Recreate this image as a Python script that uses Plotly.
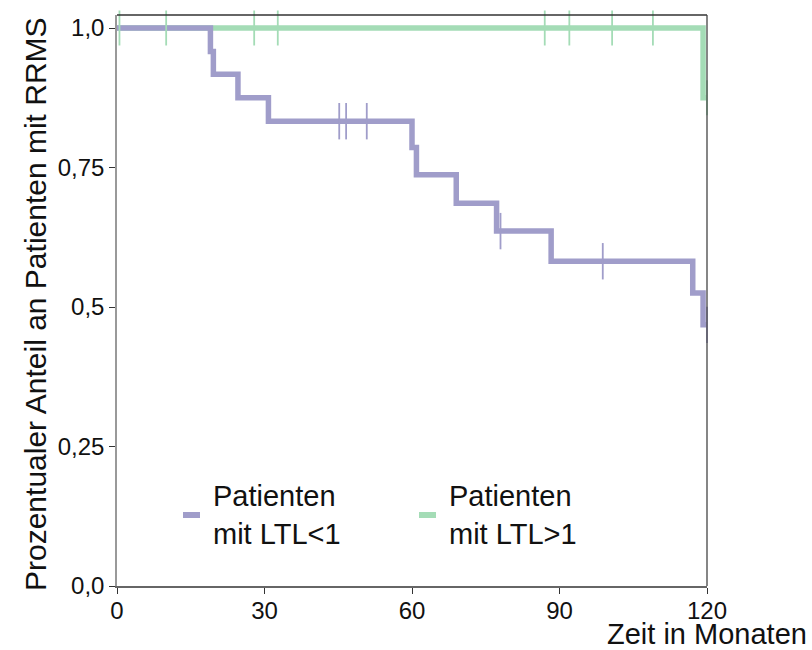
import plotly.graph_objects as go

# ---- data ----
months_ltl_lt1 = [0, 19.0, 19.6, 24.6, 30.8, 60.0, 60.9, 69.0, 77.2, 88.3, 117.1, 119.2, 120]
surv_ltl_lt1 = [1.0, 0.958, 0.917, 0.875, 0.833, 0.786, 0.737, 0.686, 0.636, 0.582, 0.525, 0.468, 0.468]
cens_t_lt1 = [45.2, 46.6, 50.8, 78.0, 98.8, 120]
cens_s_lt1 = [0.833, 0.833, 0.833, 0.636, 0.582, 0.468]

months_ltl_gt1 = [0, 119.2, 120]
surv_ltl_gt1 = [1.0, 0.875, 0.875]
cens_t_gt1 = [0.5, 10.0, 27.9, 32.7, 87.0, 92.0, 100.7, 109.0, 120]
cens_s_gt1 = [1.0, 1.0, 1.0, 1.0, 1.0, 1.0, 1.0, 1.0, 0.875]

x_ticks = [0, 30, 60, 90, 120]
y_ticks = [0, 0.25, 0.5, 0.75, 1.0]
y_tick_labels = ["0,0", "0,25", "0,5", "0,75", "1,0"]

PURPLE = "rgb(160,157,202)"
GREEN = "rgb(164,220,182)"
FONT = "Liberation Sans, Arial, sans-serif"

fig = go.Figure()
fig.add_trace(go.Scatter(x=months_ltl_gt1, y=surv_ltl_gt1, mode="lines", line=dict(color=GREEN, width=5.5, shape="hv"),
                         showlegend=False, hoverinfo="skip"))
fig.add_trace(go.Scatter(x=months_ltl_lt1, y=surv_ltl_lt1, mode="lines", line=dict(color=PURPLE, width=5.5, shape="hv"),
                         showlegend=False, hoverinfo="skip"))
fig.add_trace(go.Scatter(x=cens_t_gt1, y=cens_s_gt1, mode="markers",
                         marker=dict(symbol="line-ns", size=25, line=dict(color=GREEN, width=1.8)),
                         showlegend=False, hoverinfo="skip", cliponaxis=False))
fig.add_trace(go.Scatter(x=cens_t_lt1, y=cens_s_lt1, mode="markers",
                         marker=dict(symbol="line-ns", size=26, line=dict(color=PURPLE, width=1.8)),
                         showlegend=False, hoverinfo="skip", cliponaxis=False))

W, H = 812, 650
L, R, T, B = 117, 105, 15, 64
pw, ph = W - L - R, H - T - B

def px(xp):
    return (xp - L) / pw

def py(yp):
    return (H - B - yp) / ph

# custom legend
legend_items = [("Patienten<br>mit LTL&lt;1", PURPLE, 183, 200, 211),
                ("Patienten<br>mit LTL&gt;1", GREEN, 419, 436, 447)]
for text, col, s0, s1, tx in legend_items:
    fig.add_shape(type="line", xref="paper", yref="paper", x0=px(s0), x1=px(s1), y0=py(515), y1=py(515),
                  line=dict(color=col, width=6))
    fig.add_annotation(text=text, xref="paper", yref="paper", x=px(tx), y=py(515), xanchor="left", yanchor="middle",
                       showarrow=False, align="left", font=dict(size=29, color="#111"))

# top and right frame
fig.add_shape(type="line", xref="paper", yref="paper", x0=0, x1=1, y0=1, y1=1, line=dict(color="#333", width=1.3))
fig.add_shape(type="line", xref="paper", yref="paper", x0=1, x1=1, y0=0, y1=1, line=dict(color="#444", width=1.3))

fig.add_annotation(text="Zeit in Monaten", xref="paper", yref="paper", x=px(808), y=py(634), xanchor="right",
                   yanchor="middle", showarrow=False, font=dict(size=29, color="#111"), borderpad=0)
fig.add_annotation(text="Prozentualer Anteil an Patienten mit RRMS", xref="paper", yref="paper", x=px(35), y=py(304),
                   xanchor="center", yanchor="middle", textangle=-90, showarrow=False, font=dict(size=30, color="#111"))

fig.update_layout(
    width=W, height=H, margin=dict(l=L, r=R, t=T, b=B),
    paper_bgcolor="white", plot_bgcolor="white",
    font=dict(family=FONT, color="#111"),
    xaxis=dict(range=[0, 120], tickvals=x_ticks, ticktext=[str(v) for v in x_ticks], showgrid=False, zeroline=False,
               showline=True, linecolor="#666", linewidth=1.5, ticks="outside", ticklen=6, tickcolor="#333",
               tickfont=dict(size=24), ticklabelstandoff=-4, fixedrange=True),
    yaxis=dict(range=[0, 1.0233], tickvals=y_ticks, ticktext=y_tick_labels, showgrid=False, zeroline=False,
               showline=True, linecolor="#999", linewidth=1.5, ticks="outside", ticklen=6, tickcolor="#333",
               tickfont=dict(size=24), fixedrange=True),
)

fig.write_html("out.html")
